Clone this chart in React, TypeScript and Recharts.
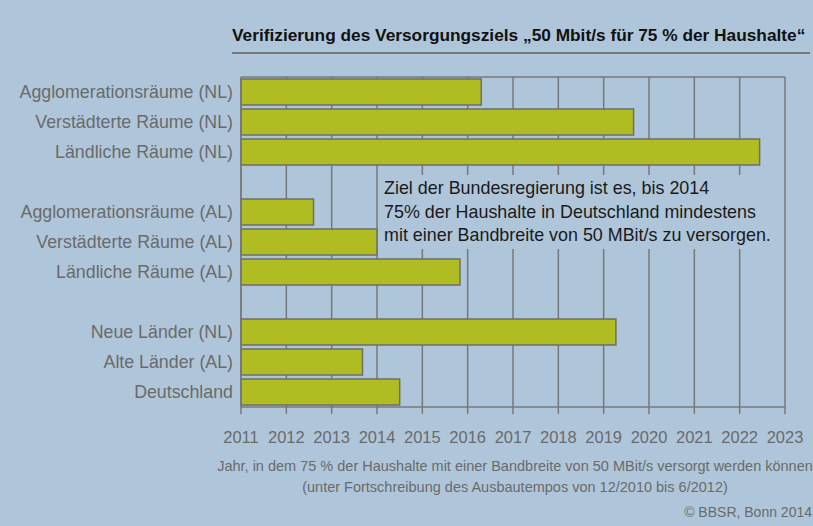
import React from 'react';
import { BarChart, Bar, XAxis, YAxis, CartesianGrid } from 'recharts';

const regions = [
  'Agglomerationsräume (NL)',
  'Verstädterte Räume (NL)',
  'Ländliche Räume (NL)',
  ' ',
  'Agglomerationsräume (AL)',
  'Verstädterte Räume (AL)',
  'Ländliche Räume (AL)',
  ' ',
  'Neue Länder (NL)',
  'Alte Länder (AL)',
  'Deutschland',
];

// year in which 75 % of households reach 50 MBit/s
const targetYear = [2016.3, 2019.66, 2022.44, null, 2012.6, 2014.0, 2015.83, null, 2019.27, 2013.68, 2014.5];

const yearTicks = [2011, 2012, 2013, 2014, 2015, 2016, 2017, 2018, 2019, 2020, 2021, 2022, 2023];

const data = regions.map((name, i) => ({ name, year: targetYear[i] }));

const BG = '#afc6da';
const BAR = '#afbd22';
const LINE = '#787878';
const LABEL = '#6a6a6a';
const FONT = "'Liberation Sans', Arial, sans-serif";

export default function App() {
  return (
    <div
      style={{
        position: 'absolute',
        left: 0,
        top: 0,
        width: 813,
        height: 526,
        background: BG,
        fontFamily: FONT,
        overflow: 'hidden',
      }}
    >
      <div
        style={{
          position: 'absolute',
          left: 232,
          top: 25,
          fontWeight: 700,
          fontSize: 17.3,
          lineHeight: '20px',
          color: '#111',
          whiteSpace: 'nowrap',
        }}
      >
        Verifizierung des Versorgungsziels „50 Mbit/s für 75 % der Haushalte“
      </div>
      <div style={{ position: 'absolute', left: 232, top: 52, width: 578, height: 2, background: LINE }} />

      <div style={{ position: 'absolute', left: 0, top: 0 }}>
        <BarChart
          width={813}
          height={452}
          data={data}
          layout="vertical"
          barSize={26}
          margin={{ top: 77, right: 28, bottom: 0, left: 0 }}
        >
          <CartesianGrid
            stroke={LINE}
            strokeWidth={1.5}
            horizontal
            vertical
            horizontalCoordinatesGenerator={({ offset }: any) => [offset.top]}
          />
          <XAxis
            type="number"
            dataKey="year"
            domain={[2011, 2023]}
            ticks={yearTicks}
            height={45}
            tickSize={7}
            tickMargin={17}
            tickLine={{ stroke: LINE, strokeWidth: 1.5 }}
            axisLine={{ stroke: LINE, strokeWidth: 1.5 }}
            tick={{ fill: LABEL, fontSize: 16.5, fontFamily: FONT }}
          />
          <YAxis
            type="category"
            dataKey="name"
            width={241}
            interval={0}
            tickLine={false}
            tickSize={0}
            tickMargin={8}
            axisLine={{ stroke: LINE, strokeWidth: 1.5 }}
            tick={{ fill: LABEL, fontSize: 17.8, fontFamily: FONT }}
          />
          <Bar dataKey="year" fill={BAR} stroke="#6e6e6e" strokeWidth={1.5} isAnimationActive={false} />
        </BarChart>
      </div>

      <div
        style={{
          position: 'absolute',
          left: 378,
          top: 175,
          width: 405,
          height: 74,
          background: BG,
          boxSizing: 'border-box',
          paddingLeft: 6,
          paddingTop: 2,
          fontSize: 17.9,
          lineHeight: '23.5px',
          color: '#1a1a1a',
          whiteSpace: 'nowrap',
        }}
      >
        <div>Ziel der Bundesregierung ist es, bis 2014</div>
        <div>75% der Haushalte in Deutschland mindestens</div>
        <div>mit einer Bandbreite von 50 MBit/s zu versorgen.</div>
      </div>

      <div
        style={{
          position: 'absolute',
          left: 213,
          width: 604,
          top: 456,
          textAlign: 'center',
          fontSize: 14.5,
          lineHeight: '21px',
          color: LABEL,
          whiteSpace: 'nowrap',
        }}
      >
        <div>Jahr, in dem 75 % der Haushalte mit einer Bandbreite von 50 MBit/s versorgt werden können</div>
        <div>(unter Fortschreibung des Ausbautempos von 12/2010 bis 6/2012)</div>
      </div>
      <div
        style={{
          position: 'absolute',
          right: 1,
          top: 503,
          fontSize: 14,
          lineHeight: '18px',
          color: LABEL,
          whiteSpace: 'nowrap',
        }}
      >
        © BBSR, Bonn 2014
      </div>
    </div>
  );
}
